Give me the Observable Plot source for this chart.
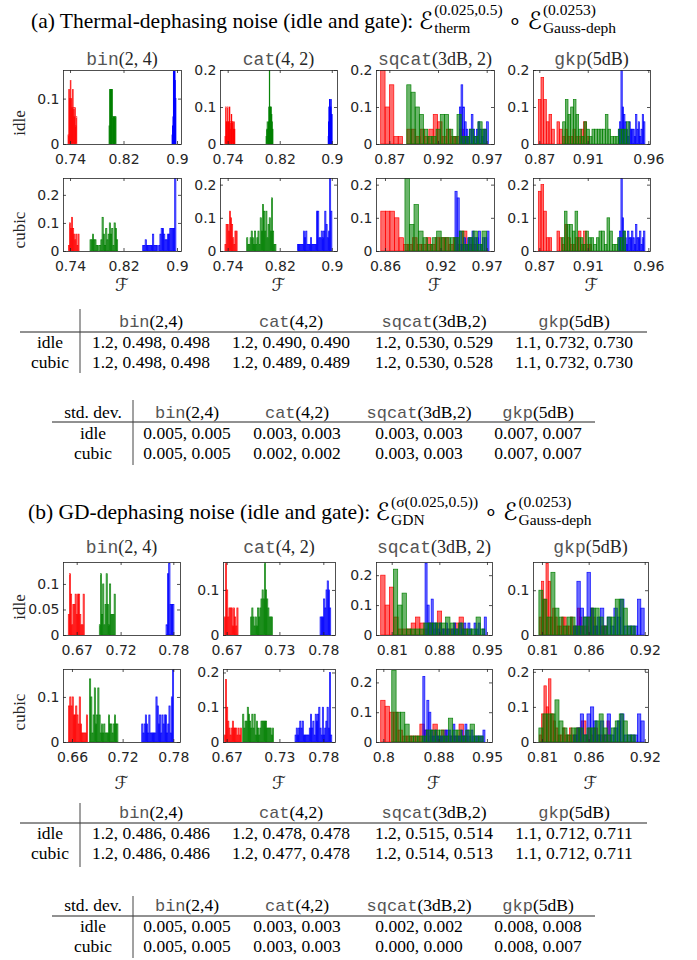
<!DOCTYPE html>
<html><head><meta charset="utf-8">
<script src="https://cdn.jsdelivr.net/npm/d3@7"></script>
<script src="https://cdn.jsdelivr.net/npm/@observablehq/plot@0.6"></script>
<style>
body{margin:0;background:#fff;}
#root{position:relative;width:697px;height:960px;overflow:hidden;background:#fff;}
</style></head>
<body><div id="root"></div>
<script>
// ---------------- DATA ----------------
const codes = ["bin", "cat", "sqcat", "gkp"];
const codeArgsPanel = ["(2, 4)", "(4, 2)", "(3dB, 2)", "(5dB)"];
const codeArgsTable = ["(2,4)", "(4,2)", "(3dB,2)", "(5dB)"];
const rowNames = ["idle", "cubic"];

// x ticks / labels per code (section a, section b)
const a_xticks = [[0.74, 0.82, 0.9], [0.74, 0.82, 0.9], [0.87, 0.92, 0.97], [0.87, 0.91, 0.96]];
const a_xlabels = [["0.74", "0.82", "0.9"], ["0.74", "0.82", "0.9"], ["0.87", "0.92", "0.97"], ["0.87", "0.91", "0.96"]];
const a_cubic_xticks = [[0.74, 0.82, 0.9], [0.74, 0.82, 0.9], [0.86, 0.92, 0.97], [0.87, 0.91, 0.96]];
const a_cubic_xlabels = [["0.74", "0.82", "0.9"], ["0.74", "0.82", "0.9"], ["0.86", "0.92", "0.97"], ["0.87", "0.91", "0.96"]];
const b_xticks = [[0.67, 0.72, 0.78], [0.67, 0.73, 0.78], [0.81, 0.88, 0.95], [0.81, 0.86, 0.92]];
const b_xlabels = [["0.67", "0.72", "0.78"], ["0.67", "0.73", "0.78"], ["0.81", "0.88", "0.95"], ["0.81", "0.86", "0.92"]];
const b_cubic_xticks = [[0.66, 0.72, 0.78], [0.67, 0.73, 0.78], [0.8, 0.88, 0.95], [0.81, 0.86, 0.92]];
const b_cubic_xlabels = [["0.66", "0.72", "0.78"], ["0.67", "0.73", "0.78"], ["0.8", "0.88", "0.95"], ["0.81", "0.86", "0.92"]];

// x domains
const a_idle_xdomain = [[0.7295, 0.906], [0.7282, 0.908], [0.8563, 0.9775], [0.8648, 0.9614]];
const a_cubic_xdomain = [[0.7295, 0.906], [0.7282, 0.908], [0.8503, 0.9779], [0.8648, 0.9614]];
const b_idle_xdomain = [[0.6544, 0.7876], [0.6658, 0.7933], [0.7869, 0.9574], [0.8004, 0.9235]];
const b_cubic_xdomain = [[0.6494, 0.7879], [0.6658, 0.7933], [0.7894, 0.9573], [0.8004, 0.9235]];

// y maxima and y ticks
const a_idle_ymax = [0.163, 0.2, 0.2, 0.2];
const a_cubic_ymax = [0.26, 0.22, 0.22, 0.22];
const b_idle_ymax = [0.143, 0.162, 0.244, 0.163];
const b_cubic_ymax = [0.162, 0.21, 0.245, 0.208];
const a_idle_yticks = [[0, 0.1], [0, 0.1, 0.2], [0, 0.1, 0.2], [0, 0.1, 0.2]];
const a_idle_ylabels = [["0", "0.1"], ["0", "0.1", "0.2"], ["0", "0.1", "0.2"], ["0", "0.1", "0.2"]];
const a_cubic_yticks = [[0, 0.1, 0.2], [0, 0.1, 0.2], [0, 0.1, 0.2], [0, 0.1, 0.2]];
const a_cubic_ylabels = [["0", "0.1", "0.2"], ["0", "0.1", "0.2"], ["0", "0.1", "0.2"], ["0", "0.1", "0.2"]];
const b_idle_yticks = [[0, 0.05, 0.1], [0, 0.1], [0, 0.1, 0.2], [0, 0.1]];
const b_idle_ylabels = [["0", "0.05", "0.1"], ["0", "0.1"], ["0", "0.1", "0.2"], ["0", "0.1"]];
const b_cubic_yticks = [[0, 0.1], [0, 0.1, 0.2], [0, 0.1, 0.2], [0, 0.1, 0.2]];
const b_cubic_ylabels = [["0", "0.1"], ["0", "0.1", "0.2"], ["0", "0.1", "0.2"], ["0", "0.1", "0.2"]];

// Histograms: first bin edge [red, green, blue], bin widths [red, green, blue], heights per series
// (a) idle
const a_idle_bin_start = [0.737, 0.7983, 0.8925], a_idle_bin_binw = [0.0011, 0.00088, 0.00067];
const a_idle_bin_red = [0.02,0.12,0.10,0.14,0.10,0.08,0.12,0.08,0.06,0.08,0.04,0.06];
const a_idle_bin_green = [0.04,0.12,0.12,0.12,0.12,0.12,0.06,0.06,0.06,0.06,0.06,0.06];
const a_idle_bin_blue = [0.02,0.04,0.06,0.16,0.16,0.16,0.16,0.14,0.10];

const a_idle_cat_start = [0.7358, 0.7989, 0.8943], a_idle_cat_binw = [0.00096, 0.00083, 0.00057];
const a_idle_cat_red = [0.02,0.10,0.06,0.06,0.10,0.06,0.06,0.10,0.04,0.06,0.08,0.06,0.06,0.04,0.06,0.04];
const a_idle_cat_green = [0.02,0.04,0.06,0.04,0.06,0.10,0.20,0.10,0.10,0.10,0.08,0.06,0.04];
const a_idle_cat_blue = [0.02,0.06,0.10,0.10,0.12,0.12,0.10,0.10,0.12,0.08,0.08];

const a_idle_sqcat_start = [0.8611, 0.8879, 0.9419], a_idle_sqcat_binw = [0.0045, 0.0043, 0.00175];
const a_idle_sqcat_red = [0.20,0.10,0.16,0.02,0.02,0,0.04,0.04,0.02,0.04,0.02,0.04,0.08,0.06,0.02,0.04,0.02,0.02,0.04,0.02];
const a_idle_sqcat_green = [0.16,0.14,0.10,0.08,0.04,0.02,0.02,0.04,0.08,0.08,0.04,0.02,0.08,0.02,0.02,0.04,0.02,0.06,0.04];
const a_idle_sqcat_blue = [0.10,0.16,0.10,0.06,0.04,0.02,0.04,0.08,0.04,0.02,0.04,0.06,0.04,0.02,0.04,0.04,0.06];

const a_idle_gkp_start = [0.8692, 0.8893, 0.9352], a_idle_gkp_binw = [0.0022, 0.0022, 0.0011];
const a_idle_gkp_red = [0.12,0.18,0.12,0.06,0.08,0.04,0,0.06,0.04,0.02,0.04,0.02,0.02,0.04,0.02,0.02,0.04,0.06,0.02];
const a_idle_gkp_green = [0.06,0.12,0.08,0.10,0.12,0.08,0.04,0.02,0.06,0.04,0.02,0.04,0.04,0.04,0.04,0.04,0.08,0.04,0.02,0.02,0.02,0.04,0.04,0.04,0.06];
const a_idle_gkp_blue = [0.04,0.06,0.20,0.10,0.08,0.06,0.04,0.02,0.06,0.04,0.04,0.04,0.02,0.08,0.04,0.06,0.02,0.04,0.08,0.06];

// (a) cubic
const a_cubic_bin_start = [0.7375, 0.7699, 0.8487], a_cubic_bin_binw = [0.0016, 0.0018, 0.00184];
const a_cubic_bin_red = [0.02,0.10,0.08,0.12,0.08,0.06,0.04,0.06,0.02,0.06];
const a_cubic_bin_green = [0.04,0.04,0.06,0.04,0.04,0.02,0.02,0,0.02,0.04,0.12,0.06,0.02,0.08,0.04,0.06,0.10,0.06,0.08,0.02,0.10,0.08,0.04];
const a_cubic_bin_blue = [0.02,0.02,0.04,0.02,0.02,0.02,0.02,0.02,0.06,0.02,0.02,0.02,0,0.02,0.06,0.08,0.08,0.06,0.04,0.04,0.06,0.06,0.08,0.08,0.08,0.08,0.26];

const a_cubic_cat_start = [0.7358, 0.7692, 0.8471], a_cubic_cat_binw = [0.0017, 0.00173, 0.00183];
const a_cubic_cat_red = [0.02,0.08,0.08,0.06,0.12,0.10,0.08,0.04,0.02,0.06,0.06];
const a_cubic_cat_green = [0.04,0.02,0.02,0.04,0.06,0.04,0.02,0.06,0.02,0.04,0.06,0.02,0.10,0.06,0.14,0.12,0.06,0.12,0.04,0.08,0.10,0.06,0.16,0.06,0.02,0.02];
const a_cubic_cat_blue = [0.02,0.02,0.02,0.02,0.02,0.06,0.04,0.06,0.02,0.02,0.02,0.04,0.02,0.02,0.02,0.02,0.12,0.12,0.04,0.04,0.06,0.04,0.06,0.12,0.08,0.04,0.06,0.22,0.12];

const a_cubic_sqcat_start = [0.8555, 0.8816, 0.9357], a_cubic_sqcat_binw = [0.0049, 0.0049, 0.0023];
const a_cubic_sqcat_red = [0.12,0.12,0.12,0.10,0.04,0.02,0.02,0.04,0.02,0.02,0.04,0.02,0.04,0.04,0.04,0.02,0.04,0.02,0.06,0.02,0.02];
const a_cubic_sqcat_green = [0.22,0.08,0.14,0.06,0.04,0.02,0.04,0.06,0.04,0.04,0.04,0.04,0.06,0.02,0.04,0.06,0.02,0.06];
const a_cubic_sqcat_blue = [0.18,0.16,0.06,0.02,0.04,0.02,0.04,0.04,0.06,0.04,0.04,0.06,0.02,0.04,0.04,0.06];

const a_cubic_gkp_start = [0.8692, 0.8885, 0.9352], a_cubic_gkp_binw = [0.0022, 0.0022, 0.0011];
const a_cubic_gkp_red = [0.18,0.20,0.12,0.04,0.04,0,0,0.06,0.04,0.02,0.08,0.04,0.02,0.02,0.04,0.06,0.02,0.06,0.02,0.02];
const a_cubic_gkp_green = [0.04,0.12,0.08,0.08,0.06,0.12,0.04,0.04,0.02,0.06,0.04,0.04,0.02,0.04,0.06,0.06,0.02,0.10,0.06,0.02,0.02,0.04,0.04,0.06];
const a_cubic_gkp_blue = [0.04,0.06,0.22,0.10,0.06,0.04,0.02,0.06,0.04,0.04,0.06,0.04,0.02,0.08,0.04,0.04,0.06,0.02,0.04,0.06];

// (b) idle
const b_idle_bin_start = [0.6604, 0.6957, 0.7717], b_idle_bin_binw = [0.0013, 0.0013, 0.0015];
const b_idle_bin_red = [0.04,0.12,0.08,0.02,0.06,0.06,0.08,0.04,0.08,0.08,0.04,0.02,0.02,0.08];
const b_idle_bin_green = [0.02,0.12,0.04,0.10,0.02,0.06,0.12,0.06,0.02,0.10,0.04,0.04,0.04,0.08];
const b_idle_bin_blue = [0.02,0.12,0.14,0.06,0.06,0.06];

const b_idle_cat_start = [0.6673, 0.6973, 0.7763], b_idle_cat_binw = [0.0013, 0.0013, 0.00135];
const b_idle_cat_red = [0.04,0.16,0.10,0.04,0.06,0.06,0.06,0.02,0.06,0.04,0.02,0.06];
const b_idle_cat_green = [0.04,0.06,0.04,0.02,0.04,0.02,0.06,0.04,0.06,0.08,0.10,0.08,0.16,0.10,0.08,0.06,0.04,0.04,0.04];
const b_idle_cat_blue = [0.04,0.04,0.04,0.08,0.06,0.10,0.12,0.10,0.06];

const b_idle_sqcat_start = [0.7938, 0.8124, 0.859], b_idle_sqcat_binw = [0.0064, 0.0064, 0.003];
const b_idle_sqcat_red = [0.20,0.10,0.16,0.06,0.02,0.02,0.02,0.04,0.06,0.04,0.02,0.04,0.02,0.08,0.02,0.02,0.02,0.04,0.06,0.02];
const b_idle_sqcat_green = [0.22,0.10,0.14,0.02,0.02,0.02,0.02,0.04,0.04,0.04,0.04,0.04,0.06,0.04,0.02,0.04,0.02,0.02,0.02,0.06,0.02];
const b_idle_sqcat_blue = [0.24,0.10,0.04,0.12,0.04,0.04,0.02,0.04,0.02,0.02,0.04,0.02,0,0.02,0.04,0.02,0,0.04,0.02,0.04,0,0.04,0.02,0,0.04,0.02,0.04,0,0.02,0.06];

const b_idle_gkp_start = [0.8071, 0.8067, 0.8438], b_idle_gkp_binw = [0.0024, 0.0043, 0.0036];
const b_idle_gkp_red = [0.04,0.12,0.08,0.16,0.12,0.04,0.06,0.04,0.02,0.02,0.04,0.04,0.02,0.02,0.04,0.02,0.02,0.06,0.04,0.02,0.02,0.02,0.04,0.06,0.04,0.02,0,0.02,0.02,0.02];
const b_idle_gkp_green = [0.10,0.08,0.04,0.14,0.06,0.04,0.02,0.04,0.04,0.02,0.02,0.04,0.04,0.06,0.06,0.04,0.02,0.04,0.04,0.08,0.08,0.06,0.02,0.02];
const b_idle_gkp_blue = [0.02,0.12,0.06,0.04,0.14,0.06,0.02,0.04,0.06,0.02,0.04,0.02,0.06,0.04,0.08,0.02,0.02,0.02,0.02,0.08,0.06];

// (b) cubic
const b_cubic_bin_start = [0.656, 0.6808, 0.7426], b_cubic_bin_binw = [0.0014, 0.0014, 0.0014];
const b_cubic_bin_red = [0.08,0.10,0.08,0.10,0.06,0.06,0.08,0.06,0.04,0.10,0.04,0.02,0.02,0.02,0.02,0.06];
const b_cubic_bin_green = [0.14,0.10,0.02,0.06,0.12,0.04,0.06,0.12,0.06,0.02,0.04,0.02,0.04,0.02,0.02,0.02,0.06,0.04,0.04,0.02,0.04,0.06,0.04,0.04];
const b_cubic_bin_blue = [0.04,0.02,0.04,0.06,0.04,0.02,0.06,0.02,0.02,0.02,0.02,0.02,0.10,0.08,0.04,0.06,0.02,0.06,0.04,0.06,0.06,0.02,0.04,0.08,0.02,0.10,0.16];

const b_cubic_cat_start = [0.6673, 0.6882, 0.7478], b_cubic_cat_binw = [0.0013, 0.0013, 0.00135];
const b_cubic_cat_red = [0.02,0.18,0.10,0.06,0.04,0.02,0.04,0.06,0.04,0.04,0.04,0.02,0.04,0.02,0.04];
const b_cubic_cat_green = [0.08,0.04,0.06,0.06,0.10,0.08,0.06,0.04,0.08,0.04,0.08,0.02,0.06,0.04,0.02,0.04,0.06,0.06,0.06,0.06,0.06,0.04,0.04,0.04,0.04,0.02,0.04];
const b_cubic_cat_blue = [0.02,0.04,0.02,0.04,0.06,0.04,0.06,0.02,0.02,0.02,0.02,0.02,0.04,0.08,0.04,0.06,0.02,0.08,0.06,0.08,0.10,0.04,0.02,0.10,0.02,0.04,0.06,0.10,0.04,0.20,0.02];

const b_cubic_sqcat_start = [0.7962, 0.8122, 0.8572], b_cubic_sqcat_binw = [0.0063, 0.0063, 0.0029];
const b_cubic_sqcat_red = [0.14,0.12,0.10,0.10,0.04,0.02,0.02,0.02,0.02,0.06,0.04,0.02,0.06,0.02,0.04,0.02,0.02,0.02,0.06,0.02];
const b_cubic_sqcat_green = [0.24,0.10,0.10,0.06,0.02,0.02,0.02,0.02,0.04,0.04,0.04,0.04,0.02,0.08,0.04,0.04,0.02,0.04,0.06,0.02,0.02];
const b_cubic_sqcat_blue = [0.22,0.04,0.14,0.10,0.04,0.02,0.04,0.02,0.02,0.02,0.02,0.04,0.04,0.04,0.02,0.06,0.02,0.02,0.02,0.04,0.02,0.06,0.04,0.02,0.04,0.02,0.02,0.02,0.02,0.02,0.04];

const b_cubic_gkp_start = [0.8071, 0.8067, 0.8438], b_cubic_gkp_binw = [0.0025, 0.0043, 0.0036];
const b_cubic_gkp_red = [0.02,0.08,0.16,0.10,0.18,0.08,0.06,0.04,0.02,0.02,0.04,0.02,0.02,0.04,0.02,0.02,0.04,0.04,0.06,0.06,0.02,0.04,0.02,0.04,0.04,0.02,0.02,0.02,0.02,0.06];
const b_cubic_gkp_green = [0.04,0.08,0.08,0.08,0.12,0.06,0.04,0.02,0.04,0.04,0.04,0.02,0.04,0.04,0.06,0.08,0.04,0.02,0.04,0.06,0.08,0.06,0.02,0.02];
const b_cubic_gkp_blue = [0.02,0.04,0.08,0.02,0.08,0.10,0.06,0.02,0.06,0.02,0.08,0.02,0.04,0.06,0.08,0.02,0.02,0.02,0.02,0.08,0.06];

// Tables
const a_mean_idle = ["1.2, 0.498, 0.498", "1.2, 0.490, 0.490", "1.2, 0.530, 0.529", "1.1, 0.732, 0.730"];
const a_mean_cubic = ["1.2, 0.498, 0.498", "1.2, 0.489, 0.489", "1.2, 0.530, 0.528", "1.1, 0.732, 0.730"];
const a_std_idle = ["0.005, 0.005", "0.003, 0.003", "0.003, 0.003", "0.007, 0.007"];
const a_std_cubic = ["0.005, 0.005", "0.002, 0.002", "0.003, 0.003", "0.007, 0.007"];
const b_mean_idle = ["1.2, 0.486, 0.486", "1.2, 0.478, 0.478", "1.2, 0.515, 0.514", "1.1, 0.712, 0.711"];
const b_mean_cubic = ["1.2, 0.486, 0.486", "1.2, 0.477, 0.478", "1.2, 0.514, 0.513", "1.1, 0.712, 0.711"];
const b_std_idle = ["0.005, 0.005", "0.003, 0.003", "0.002, 0.002", "0.008, 0.008"];
const b_std_cubic = ["0.005, 0.005", "0.003, 0.003", "0.000, 0.000", "0.008, 0.007"];

// ---------------- LAYOUT / STYLE ----------------
const SERIF = "'Liberation Serif','Times New Roman',serif";
const MONO = "'Liberation Mono','Courier New',monospace";
const SCRIPT = "'DejaVu Serif','DejaVu Sans',serif";
const AX = "#262626";
const MONOCOL = "#555";
const COL = {red: "#ff0000", green: "#008000", blue: "#0000ff"};

const layout = {
  a: {lefts: [63, 220, 376, 533], widths: [118, 117, 118, 117], tops: [70, 178], heights: [74, 73]},
  b: {lefts: [63, 223, 376, 533], widths: [117, 112, 116, 115], tops: [562, 669], heights: [73, 73]}
};

const root = document.getElementById("root");
const g = {
  a_idle: {xt: a_xticks, xl: a_xlabels, xd: a_idle_xdomain, ym: a_idle_ymax, yt: a_idle_yticks, yl: a_idle_ylabels},
  a_cubic: {xt: a_cubic_xticks, xl: a_cubic_xlabels, xd: a_cubic_xdomain, ym: a_cubic_ymax, yt: a_cubic_yticks, yl: a_cubic_ylabels},
  b_idle: {xt: b_xticks, xl: b_xlabels, xd: b_idle_xdomain, ym: b_idle_ymax, yt: b_idle_yticks, yl: b_idle_ylabels},
  b_cubic: {xt: b_cubic_xticks, xl: b_cubic_xlabels, xd: b_cubic_xdomain, ym: b_cubic_ymax, yt: b_cubic_yticks, yl: b_cubic_ylabels}
};
const hist = {
  a_idle: [[a_idle_bin_start, a_idle_bin_binw, a_idle_bin_red, a_idle_bin_green, a_idle_bin_blue],
           [a_idle_cat_start, a_idle_cat_binw, a_idle_cat_red, a_idle_cat_green, a_idle_cat_blue],
           [a_idle_sqcat_start, a_idle_sqcat_binw, a_idle_sqcat_red, a_idle_sqcat_green, a_idle_sqcat_blue],
           [a_idle_gkp_start, a_idle_gkp_binw, a_idle_gkp_red, a_idle_gkp_green, a_idle_gkp_blue]],
  a_cubic: [[a_cubic_bin_start, a_cubic_bin_binw, a_cubic_bin_red, a_cubic_bin_green, a_cubic_bin_blue],
           [a_cubic_cat_start, a_cubic_cat_binw, a_cubic_cat_red, a_cubic_cat_green, a_cubic_cat_blue],
           [a_cubic_sqcat_start, a_cubic_sqcat_binw, a_cubic_sqcat_red, a_cubic_sqcat_green, a_cubic_sqcat_blue],
           [a_cubic_gkp_start, a_cubic_gkp_binw, a_cubic_gkp_red, a_cubic_gkp_green, a_cubic_gkp_blue]],
  b_idle: [[b_idle_bin_start, b_idle_bin_binw, b_idle_bin_red, b_idle_bin_green, b_idle_bin_blue],
           [b_idle_cat_start, b_idle_cat_binw, b_idle_cat_red, b_idle_cat_green, b_idle_cat_blue],
           [b_idle_sqcat_start, b_idle_sqcat_binw, b_idle_sqcat_red, b_idle_sqcat_green, b_idle_sqcat_blue],
           [b_idle_gkp_start, b_idle_gkp_binw, b_idle_gkp_red, b_idle_gkp_green, b_idle_gkp_blue]],
  b_cubic: [[b_cubic_bin_start, b_cubic_bin_binw, b_cubic_bin_red, b_cubic_bin_green, b_cubic_bin_blue],
           [b_cubic_cat_start, b_cubic_cat_binw, b_cubic_cat_red, b_cubic_cat_green, b_cubic_cat_blue],
           [b_cubic_sqcat_start, b_cubic_sqcat_binw, b_cubic_sqcat_red, b_cubic_sqcat_green, b_cubic_sqcat_blue],
           [b_cubic_gkp_start, b_cubic_gkp_binw, b_cubic_gkp_red, b_cubic_gkp_green, b_cubic_gkp_blue]]
};

function bins(start, w, heights) {
  return heights.map((h, j) => ({x1: start + j * w, x2: start + (j + 1) * w, y: h})).filter(d => d.y > 0);
}

function drawPanel(sec, row, col) {
  const key = sec + "_" + rowNames[row];
  const L = layout[sec];
  const W = L.widths[col], H = L.heights[row];
  const ML = 46, MR = 24, MT = 10, MB = 30;
  const ax = g[key];
  const [start, binw, red, green, blue] = hist[key][col];
  const xt = ax.xt[col], xl = ax.xl[col], yt = ax.yt[col], yl = ax.yl[col];
  const series = [["red", 0, red], ["blue", 2, blue], ["green", 1, green]];
  const marks = series.map(([c, i, hs]) => Plot.rectY(bins(start[i], binw[i], hs), {
    x1: "x1", x2: "x2", y: "y", fill: COL[c], fillOpacity: 0.58, stroke: COL[c], strokeWidth: 0.7, strokeOpacity: 0.95, clip: true
  }));
  const svg = Plot.plot({
    width: W + ML + MR, height: H + MT + MB,
    marginLeft: ML, marginRight: MR, marginTop: MT, marginBottom: MB,
    x: {domain: ax.xd[col]}, y: {domain: [0, ax.ym[col]]},
    style: {background: "transparent", overflow: "visible", fontFamily: "'DejaVu Sans',sans-serif", fontSize: "14px", color: AX},
    marks: [
      ...marks,
      Plot.frame({stroke: AX, strokeWidth: 0.8}),
      Plot.tickX(xt, {x: d => d, insetTop: H - 3, stroke: AX, strokeWidth: 0.8}),
      Plot.tickX(xt, {x: d => d, insetBottom: H - 3, stroke: AX, strokeWidth: 0.8}),
      Plot.tickY(yt, {y: d => d, insetRight: W - 3, stroke: AX, strokeWidth: 0.8}),
      Plot.tickY(yt, {y: d => d, insetLeft: W - 3, stroke: AX, strokeWidth: 0.8}),
      Plot.axisX({ticks: xt, tickFormat: d => xl[xt.indexOf(d)], tickSize: 0, tickPadding: 10, label: null, fontSize: 14, fill: AX}),
      Plot.axisY({ticks: yt, tickFormat: d => yl[yt.indexOf(d)], tickSize: 0, tickPadding: 4, label: null, fontSize: 14, fill: AX})
    ]
  });
  svg.style.position = "absolute";
  svg.style.left = (L.lefts[col] - ML) + "px";
  svg.style.top = (L.tops[row] - MT) + "px";
  svg.style.maxWidth = "none";
  root.appendChild(svg);
}

for (const sec of ["a", "b"]) for (let r = 0; r < 2; r++) for (let c = 0; c < 4; c++) drawPanel(sec, r, c);

// ---------------- TEXT OVERLAY ----------------
const ov = d3.select(root).append("svg").attr("width", 697).attr("height", 960)
  .style("position", "absolute").style("left", "0px").style("top", "0px");

function richLine(parts, cx, base, opts = {}) {
  const grp = ov.append("g");
  let x = 0;
  const ss = opts.supSize || 15.5;
  for (const p of parts) {
    if (p.sup !== undefined) {
      const a = grp.append("text").attr("x", x).attr("y", base - 12.5).attr("font-family", SERIF).attr("font-size", ss).attr("fill", "#000").style("white-space", "pre").text(p.sup);
      const b = grp.append("text").attr("x", x).attr("y", base + 5.5).attr("font-family", SERIF).attr("font-size", ss).attr("fill", "#000").style("white-space", "pre").text(p.sub);
      x += Math.max(a.node().getComputedTextLength(), b.node().getComputedTextLength());
    } else {
      const t = grp.append("text").attr("x", x).attr("y", base + (p.dy || 0)).attr("font-family", p.font || SERIF)
        .attr("font-size", p.size || 21.5).attr("fill", p.color || "#000").style("white-space", "pre").text(p.text);
      x += t.node().getComputedTextLength() + (p.gap || 0);
    }
  }
  const left = opts.left !== undefined ? opts.left : cx - x / 2;
  grp.attr("transform", `translate(${left},0)`);
}

// Main titles
richLine([{text: "(a) Thermal-dephasing noise (idle and gate): "}, {text: "ℰ", font: SCRIPT, size: 24, dy: 1, gap: 1},
  {sup: "(0.025,0.5)", sub: "therm"}, {text: " ∘ "}, {text: "ℰ", font: SCRIPT, size: 24, dy: 1, gap: 1},
  {sup: "(0.0253)", sub: "Gauss-deph"}], 0, 27.5, {left: 31});
richLine([{text: "(b) GD-dephasing noise (idle and gate): "}, {text: "ℰ", font: SCRIPT, size: 24, dy: 1, gap: 1},
  {sup: "(σ(0.025,0.5))", sub: "GDN"}, {text: " ∘ "}, {text: "ℰ", font: SCRIPT, size: 24, dy: 1, gap: 1},
  {sup: "(0.0253)", sub: "Gauss-deph"}], 0, 519, {left: 28});

// Panel column titles, y labels, x labels
const colTitleBase = {a: 65, b: 553};
const yLabelCenter = {a: [123, 230], b: [607, 712]};
const fLabelBase = {a: 291, b: 789};
for (const sec of ["a", "b"]) {
  const L = layout[sec];
  for (let c = 0; c < 4; c++) {
    const cx = L.lefts[c] + L.widths[c] / 2;
    richLine([{text: codes[c], font: MONO, size: 18, color: MONOCOL}, {text: codeArgsPanel[c], font: SERIF, size: 18, color: AX}], cx, colTitleBase[sec]);
    ov.append("text").attr("x", cx).attr("y", fLabelBase[sec]).attr("text-anchor", "middle")
      .attr("font-family", SCRIPT).attr("font-size", 18).attr("fill", AX).text("ℱ");
  }
  for (let r = 0; r < 2; r++) {
    ov.append("text").attr("transform", `translate(19,${yLabelCenter[sec][r]}) rotate(-90)`)
      .attr("text-anchor", "middle").attr("dy", "0.35em").attr("font-family", SERIF).attr("font-size", 17)
      .attr("fill", AX).text(rowNames[r]);
  }
}

// Tables
function hline(x1, x2, y) { ov.append("line").attr("x1", x1).attr("x2", x2).attr("y1", y).attr("y2", y).attr("stroke", "#222").attr("stroke-width", 1); }
function vline(x, y1, y2) { ov.append("line").attr("x1", x).attr("x2", x).attr("y1", y1).attr("y2", y2).attr("stroke", "#444").attr("stroke-width", 1); }
function cell(txt, cx, cy) {
  ov.append("text").attr("x", cx).attr("y", cy + 6).attr("text-anchor", "middle").attr("font-family", SERIF)
    .attr("font-size", 17.5).attr("fill", "#000").style("white-space", "pre").text(txt);
}
function table(opts) {
  const {corner, labelX, colX, rowsY, ruleY, ruleX, vX, vY, values} = opts;
  hline(ruleX[0], ruleX[1], ruleY);
  vline(vX, vY[0], vY[1]);
  if (corner) cell(corner, labelX, rowsY[0]);
  for (let c = 0; c < 4; c++) {
    richLine([{text: codes[c], font: MONO, size: 17, color: MONOCOL}, {text: codeArgsTable[c], font: SERIF, size: 17.5}], colX[c], rowsY[0] + 6);
  }
  for (let r = 0; r < 2; r++) {
    cell(rowNames[r], labelX, rowsY[r + 1]);
    for (let c = 0; c < 4; c++) cell(values[r][c], colX[c], rowsY[r + 1]);
  }
}
const meanCols = [151, 291, 434, 574];
const stdCols = [187, 297, 419, 538];
table({corner: null, labelX: 50, colX: meanCols, rowsY: [321, 342, 362], ruleY: 332, ruleX: [20, 647], vX: 80, vY: [309, 373], values: [a_mean_idle, a_mean_cubic]});
table({corner: "std. dev.", labelX: 93, colX: stdCols, rowsY: [412, 433, 453], ruleY: 422, ruleX: [52, 595], vX: 133, vY: [400, 465], values: [a_std_idle, a_std_cubic]});
table({corner: null, labelX: 50, colX: meanCols, rowsY: [812, 833, 853], ruleY: 823, ruleX: [20, 647], vX: 80, vY: [803, 867], values: [b_mean_idle, b_mean_cubic]});
table({corner: "std. dev.", labelX: 93, colX: stdCols, rowsY: [905, 926, 946], ruleY: 916, ruleX: [52, 595], vX: 133, vY: [896, 958], values: [b_std_idle, b_std_cubic]});
</script>
</body></html>
